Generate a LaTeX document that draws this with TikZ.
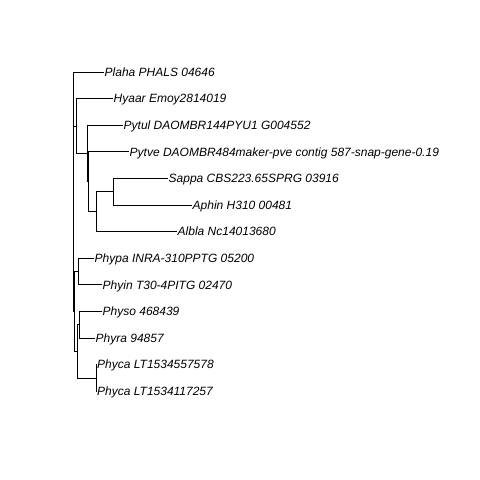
\documentclass[tikz,border=0pt]{standalone}
\usepackage{fontspec}
\setmainfont{Liberation Sans}
\usepackage{tikz}

\begin{document}
\begin{tikzpicture}[
    x=1pt, y=-1pt,
    tiplabel/.style={anchor=west, inner sep=0.5pt, text height=8.6pt, text depth=0pt, font=\itshape\fontsize{12}{14}\selectfont},
    branch/.style={draw=black, line width=0.8pt}
    ]
        \useasboundingbox (0,0) rectangle (480,480);

        %Tips
        \node[tiplabel] (plaha)  at (104,72)    {Plaha PHALS 04646};
        \node[tiplabel] (hyaar)  at (113,98.6)  {Hyaar Emoy2814019};
        \node[tiplabel] (pytul)  at (123,125.2) {Pytul DAOMBR144PYU1 G004552};
        \node[tiplabel] (pytve)  at (129,151.8) {Pytve DAOMBR484maker-pve contig 587-snap-gene-0.19};
        \node[tiplabel] (sappa)  at (168,178.4) {Sappa CBS223.65SPRG 03916};
        \node[tiplabel] (aphin)  at (192,205)   {Aphin H310 00481};
        \node[tiplabel] (albla)  at (177,231.6) {Albla Nc14013680};
        \node[tiplabel] (phypa)  at (94,258.2)  {Phypa INRA-310PPTG 05200};
        \node[tiplabel] (phyin)  at (102,284.8) {Phyin T30-4PITG 02470};
        \node[tiplabel] (physo)  at (102,311.4) {Physo 468439};
        \node[tiplabel] (phyra)  at (95,338)    {Phyra 94857};
        \node[tiplabel] (phycaA) at (96.5,364.6) {Phyca LT1534557578};
        \node[tiplabel] (phycaB) at (96.5,391.2) {Phyca LT1534117257};

        %Inner nodes
        \coordinate (sa)   at (113,191.7);
        \coordinate (c)    at (96,211.65);
        \coordinate (b)    at (88,181.7);
        \coordinate (a)    at (87.3,153.5);
        \coordinate (d)    at (76,126);
        \coordinate (h)    at (78.3,271.5);
        \coordinate (e)    at (79.3,324.7);
        \coordinate (p)    at (96,377.9);
        \coordinate (f)    at (77.3,351.3);
        \coordinate (g)    at (74,311.4);
        \coordinate (root) at (73,126);

        %Lines
        \draw[branch] (root) |- (plaha.west);
        \draw[branch] (root) |- (d);
        \draw[branch] (root) |- (g);
        \draw[branch] (d) |- (hyaar.west);
        \draw[branch] (d) |- (a);
        \draw[branch] (a) |- (pytul.west);
        \draw[branch] (a) |- (b);
        \draw[branch] (b) |- (pytve.west);
        \draw[branch] (b) |- (c);
        \draw[branch] (c) |- (sa);
        \draw[branch] (c) |- (albla.west);
        \draw[branch] (sa) |- (sappa.west);
        \draw[branch] (sa) |- (aphin.west);
        \draw[branch] (g) |- (h);
        \draw[branch] (g) |- (f);
        \draw[branch] (h) |- (phypa.west);
        \draw[branch] (h) |- (phyin.west);
        \draw[branch] (f) |- (e);
        \draw[branch] (f) |- (p);
        \draw[branch] (e) |- (physo.west);
        \draw[branch] (e) |- (phyra.west);
        \draw[branch] (p) |- (phycaA.west);
        \draw[branch] (p) |- (phycaB.west);
    \end{tikzpicture}
\end{document}
